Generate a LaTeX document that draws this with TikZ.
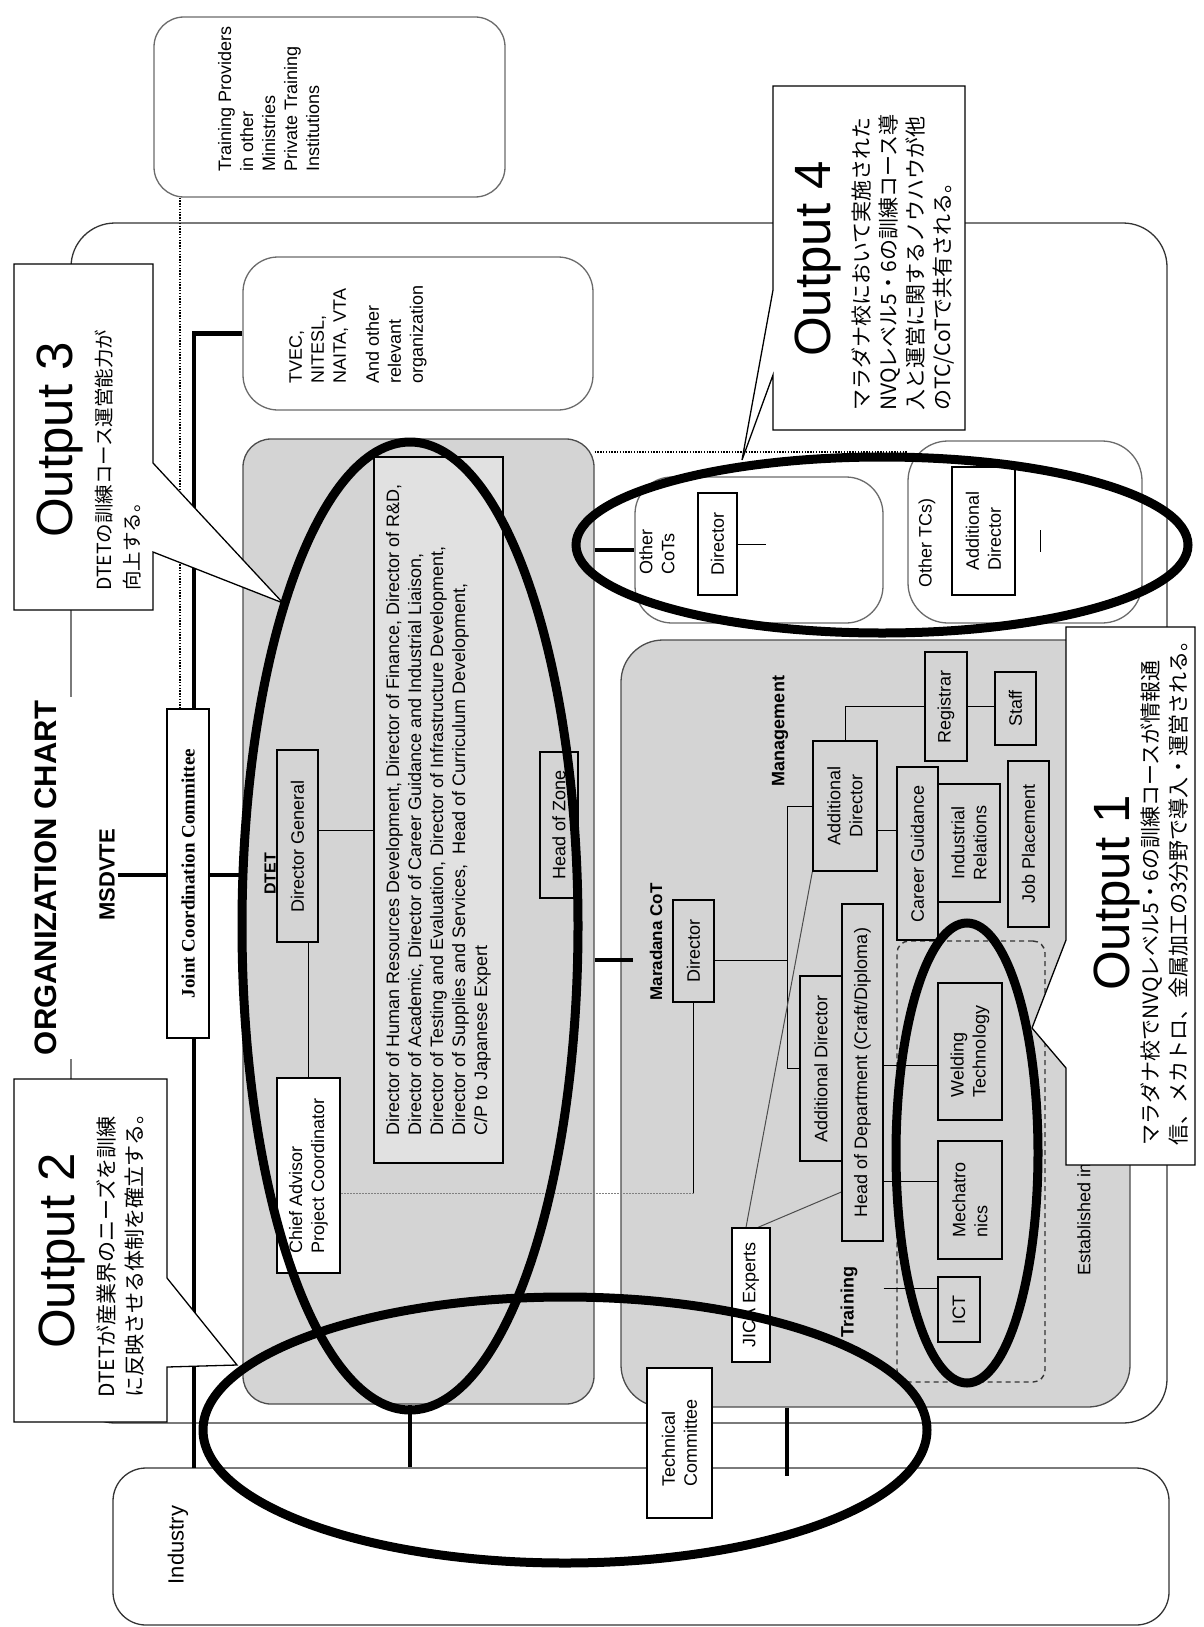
\documentclass[tikz,border=0pt]{standalone}
\usepackage{fontspec}
\setmainfont{Liberation Sans}
\newfontfamily\jpfont{Noto Sans CJK JP}
\newfontfamily\jccfont{Liberation Serif}
\pgfdeclarelayer{backlayer}
\pgfdeclarelayer{edgelayer}
\pgfdeclarelayer{nodelayer}
\pgfdeclarelayer{ringlayer}
\pgfsetlayers{backlayer,edgelayer,nodelayer,main,ringlayer}
\newcommand{\txt}{\fontsize{18}{22}\selectfont}
\newcommand{\bigtxt}{\fontsize{51}{56}\selectfont}
\definecolor{panel}{gray}{0.83}
\definecolor{rim}{gray}{0.42}
\tikzstyle{box}=[draw=black, line width=1.3pt, fill=panel, rotate=90, inner sep=1pt, align=center, font=\txt]
\tikzstyle{whitebox}=[box, fill=white]
\tikzstyle{container}=[draw=rim, line width=1.3pt, fill=white, rectangle]
\tikzstyle{panelbox}=[draw=black!70, line width=1.3pt, fill=panel, rectangle]
\tikzstyle{plaintext}=[rotate=90, inner sep=0pt, font=\txt]
\tikzstyle{boldtext}=[rotate=90, inner sep=0pt, font=\bfseries\txt]
\tikzstyle{bar}=[line width=4.5pt]
\tikzstyle{link}=[draw=black, line width=1pt]
\tikzstyle{dots}=[line width=2.5pt, dash pattern=on 1.4pt off 1.4pt]
\tikzstyle{ring}=[line width=9pt]
\tikzstyle{callout}=[draw=black, line width=1.3pt, fill=white]
\tikzstyle{jptext}=[rotate=90, inner sep=0pt, anchor=north west, align=left]

\begin{document}
\begin{tikzpicture}[x=1pt, y=-1pt]
  \useasboundingbox (0,0) rectangle (1203,1627);
  \begin{pgfonlayer}{backlayer}
    \fill[white] (0,0) rectangle (1203,1627);
    \node[container, draw=black!80, rounded corners=44pt, minimum width=1096pt, minimum height=1200pt] (outer) at (619,823) {};
    \node[container, rounded corners=30pt, minimum width=351pt, minimum height=180pt] (prov) at (329.5,107) {};
    \node[container, rounded corners=35pt, minimum width=350pt, minimum height=153pt] (tvec) at (418,333.5) {};
    \node[panelbox, rounded corners=28pt, minimum width=351pt, minimum height=965pt] (dtet) at (418.5,921.5) {};
    \node[panelbox, rounded corners=42pt, minimum width=509pt, minimum height=767pt] (cot) at (875.5,1023.5) {};
    \node[container, rounded corners=37pt, minimum width=248pt, minimum height=146pt] (othcot) at (759,550) {};
    \node[container, rounded corners=40pt, minimum width=234pt, minimum height=182pt] (othtc) at (1025,532) {};
    \node[container, draw=black!80, rounded corners=33pt, minimum width=1056pt, minimum height=157pt] (industry) at (641,1546.5) {};
    \node[draw=black!80, line width=1.4pt, dash pattern=on 5pt off 4pt, rounded corners=12pt, minimum width=148pt, minimum height=441pt] (courses) at (971,1161.5) {};
  \end{pgfonlayer}
  \begin{pgfonlayer}{nodelayer}
    \node[boldtext, font=\bfseries\fontsize{31}{34}\selectfont, fill=white, inner xsep=4pt, minimum height=66pt] (title) at (46,878) {ORGANIZATION CHART};
    \node[boldtext, font=\bfseries\fontsize{22}{24}\selectfont, inner sep=3pt] (msdvte) at (107,875) {MSDVTE};
    \node[whitebox, minimum width=329pt, minimum height=42pt, font=\jccfont\bfseries\fontsize{19}{21}\selectfont] (jcc) at (188,873.5) {Joint Coordination Committee};
    \node[plaintext, anchor=north west, align=left] (provtext) at (218,172) {Training Providers\\in other\\Ministries\\Private Training\\Institutions};
    \node[plaintext, anchor=north west, align=left] (tvectext) at (289,384) {TVEC,\\NITESL,\\NAITA, VTA\\[11pt]And other\\relevant\\organization};
    \node[boldtext, font=\bfseries\fontsize{16}{18}\selectfont] (dtetname) at (270,874) {DTET};
    \node[box, minimum width=192pt, minimum height=41pt] (dg) at (297.5,846) {Director General};
    \node[whitebox, minimum width=195pt, minimum height=63pt, align=left] (chief) at (308.5,1175.5) {Chief Advisor\\Project Coordinator};
    \node[box, fill=panel!70!white, minimum width=706pt, minimum height=129pt, align=left] (dirs) at (438.5,810) {Director of Human Resources Development, Director of Finance, Director of R\&D,\\Director of Academic, Director of Career Guidance and Industrial Liaison,\\Director of Testing and Evaluation, Director of Infrastructure Development,\\Director of Supplies and Services,\ \ Head of Curriculum Development,\\C/P to Japanese Expert};
    \node[box, minimum width=146pt, minimum height=38pt] (zone) at (559,825) {Head of Zone};
    \node[plaintext, align=left] (othcotname) at (657,552) {Other\\CoTs};
    \node[whitebox, minimum width=102pt, minimum height=39pt] (ocdir) at (717.5,544) {Director};
    \node[plaintext] (othtcname) at (927,543) {Other TCs)};
    \node[whitebox, minimum width=128pt, minimum height=63pt, align=left] (otcad) at (983.5,531) {Additional\\Director};
    \node[boldtext, font=\bfseries\fontsize{17}{19}\selectfont] (cotname) at (656,942) {Maradana CoT};
    \node[box, minimum width=102pt, minimum height=41pt] (cotdir) at (693.5,951) {Director};
    \node[boldtext] (mgmtname) at (780,731) {Management};
    \node[box, minimum width=130pt, minimum height=64pt] (mad) at (845,806) {Additional\\Director};
    \node[box, minimum width=109pt, minimum height=42pt] (reg) at (946,706.5) {Registrar};
    \node[box, minimum width=73pt, minimum height=41pt] (staff) at (1015.5,708.5) {Staff};
    \node[box, minimum width=173pt, minimum height=41pt] (career) at (917.5,853.5) {Career Guidance};
    \node[box, minimum width=118pt, minimum height=62pt] (indrel) at (969,843) {Industrial\\Relations};
    \node[box, minimum width=166pt, minimum height=41pt] (jobpl) at (1028.5,844) {Job Placement};
    \node[box, minimum width=185pt, minimum height=42pt] (tad) at (821,1068.5) {Additional Director};
    \node[box, minimum width=337pt, minimum height=41pt] (hod) at (862.5,1072.5) {Head of Department (Craft/Diploma)};
    \node[box, minimum width=137pt, minimum height=64pt, align=left] (weld) at (970,1051.5) {Welding\\Technology};
    \node[box, minimum width=118pt, minimum height=64pt, align=left] (mech) at (970,1200) {Mechatro\\nics};
    \node[box, minimum width=65pt, minimum height=42pt] (ict) at (959,1309.5) {ICT};
    \node[whitebox, minimum width=134pt, minimum height=38pt] (jica) at (751,1295) {JICA Experts};
    \node[boldtext] (trainname) at (849,1302) {Training};
    \node[plaintext, anchor=west] (estab) at (1084,1276) {Established in};
    \node[whitebox, minimum width=150pt, minimum height=65pt, align=left] (techcom) at (679.5,1443) {Technical\\Committee};
    \node[plaintext, font=\fontsize{22}{24}\selectfont] (indname) at (178,1545) {Industry};
  \end{pgfonlayer}
  \begin{pgfonlayer}{edgelayer}
    \coordinate (spinefoot) at (194,1468);
    \coordinate (dotline) at (180,0);
    \coordinate (tclevel) at (0,452);
    \coordinate (dglevel) at (0,830);
    \coordinate (cotlevel) at (0,960);
    \coordinate (cotlink) at (633,960);
    \coordinate (mgmtbus) at (787,0);
    \coordinate (chieflevel) at (0,1193);
    \coordinate (jicalevel) at (0,1192);
    \coordinate (weldlevel) at (0,1065);
    \coordinate (mechlevel) at (0,1181);
    \coordinate (ictlevel) at (0,1288);
    \coordinate (leftdrop) at (410,0);
    \coordinate (rightdrop) at (787,1476);
    \coordinate (ocdirend) at (766,544);
    \coordinate (otctick) at (1040,530);
    \coordinate (otctickend) at (1040,552);
    \draw[dots] (prov.south -| dotline) -- (jcc.east -| dotline);
    \draw[bar] (tvec.west) -| (spinefoot);
    \draw[bar] (msdvte.south) -- (jcc.north |- msdvte.south);
    \draw[bar] (jcc.south |- msdvte.south) -- (dtet.west |- msdvte.south);
    \draw[bar] (dtet.east |- othcot.west) -- (othcot.west);
    \draw[bar] (dtet.east |- cotlevel) -- (cotlink);
    \draw[dots] (dtet.east |- tclevel) -- (othtc.west |- tclevel);
    \draw[bar] (dtet.south -| leftdrop) -- (industry.north -| leftdrop);
    \draw[bar] (cot.south -| rightdrop) -- (rightdrop);
    \draw[link] (dg.south |- dglevel) -- (dirs.north |- dglevel);
    \draw[link] (chief.east) -- (chief.east |- dg.west);
    \draw[link] (cotdir.south |- cotlevel) -- (mgmtbus |- cotlevel);
    \draw[link] (mad.north) -| (mgmtbus |- tad.north) -- (tad.north);
    \draw[link] (mad.east) |- (reg.north);
    \draw[link] (reg.south) -- (staff.north |- reg.south);
    \draw[link] (mad.south |- dglevel) -- (career.north |- dglevel);
    \draw[link] (cotdir.west) -- (cotdir.west |- chieflevel);
    \draw[link, draw=gray, dash pattern=on 2pt off 1pt] (cotdir.west |- chieflevel) -- (chief.south |- chieflevel);
    \draw[link] (hod.south |- weldlevel) -- (weld.north |- weldlevel);
    \draw[link] (hod.south |- mechlevel) -- (mech.north |- mechlevel);
    \draw[link] (hod.south |- ictlevel) -- (ict.north |- ictlevel);
    \draw[link, draw=black!70] ([xshift=-5pt]jica.east) -- (mad.north west);
    \draw[link, draw=black!70] ([xshift=7pt]jica.east) -- (hod.north |- jicalevel);
    \draw[link] (ocdir.south) -- (ocdirend);
    \draw[link] (otctick) -- (otctickend);
  \end{pgfonlayer}
  \coordinate (o3tip) at (283,603);
  \coordinate (o2tip) at (237,1365);
  \coordinate (o4tip) at (742,460);
  \coordinate (o1tip) at (1032,1028);
  \draw[callout] (14,264) -- (153,264) -- (153,463) -- (o3tip) -- (153,552) -- (153,610) -- (14,610) -- cycle;
  \node[plaintext, font=\bigtxt] (out3) at (60,440) {Output 3};
  \node[jptext, font=\jpfont\fontsize{19.5}{28}\selectfont] (out3jp) at (95,591) {DTETの訓練コース運営能力が\\向上する。};
  \draw[callout] (14,1079) -- (167,1079) -- (167,1278) -- (o2tip) -- (167,1367) -- (167,1422) -- (14,1422) -- cycle;
  \node[plaintext, font=\bigtxt] (out2) at (62,1251) {Output 2};
  \node[jptext, font=\jpfont\fontsize{21}{28}\selectfont] (out2jp) at (96,1398) {DTETが産業界のニーズを訓練\\に反映させる体制を確立する。};
  \draw[callout] (773,86) -- (965,86) -- (965,430) -- (773,430) -- (773,375) -- (o4tip) -- (773,290) -- cycle;
  \node[plaintext, font=\bigtxt] (out4) at (818,259) {Output 4};
  \node[jptext, font=\jpfont\fontsize{21}{27}\selectfont] (out4jp) at (852,411) {マラダナ校において実施された\\NVQレベル5・6の訓練コース導\\入と運営に関するノウハウが他\\のTC/CoTで共有される。};
  \draw[callout] (1066,627) -- (1195,627) -- (1195,1165) -- (1066,1165) -- (1066,1068) -- (o1tip) -- (1066,940) -- cycle;
  \node[plaintext, font=\bigtxt] (out1) at (1117,893) {Output 1};
  \node[jptext, font=\jpfont\fontsize{21}{28}\selectfont] (out1jp) at (1141,1146) {マラダナ校でNVQレベル5・6の訓練コースが情報通\\信、メカトロ、金属加工の3分野で導入・運営される。};
  \begin{pgfonlayer}{ringlayer}
    \draw[ring] (410,926) ellipse [x radius=168, y radius=484];
    \draw[ring] (565,1430) ellipse [x radius=362, y radius=133];
    \draw[ring] (882,545) ellipse [x radius=306, y radius=88];
    \draw[ring] (967,1153) ellipse [x radius=71, y radius=230];
  \end{pgfonlayer}
\end{tikzpicture}
\end{document}
